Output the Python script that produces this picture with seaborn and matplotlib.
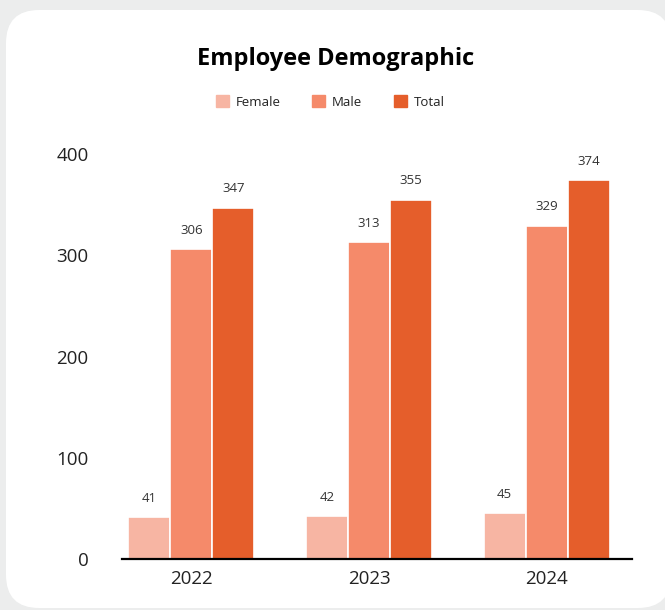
import matplotlib
matplotlib.use("Agg")
import matplotlib.pyplot as plt
from matplotlib.patches import FancyBboxPatch
import seaborn as sns
import pandas as pd

years = ["2022", "2023", "2024"]
groups = ["Female", "Male", "Total"]
female = [41, 42, 45]
male = [306, 313, 329]
total = [347, 355, 374]
yticks = [0, 100, 200, 300, 400]

palette = {"Female": "#F7B5A3", "Male": "#F58A6A", "Total": "#E55E2B"}

df = pd.DataFrame({
    "Year": years * 3,
    "Group": ["Female"] * 3 + ["Male"] * 3 + ["Total"] * 3,
    "Count": female + male + total,
})

sns.set_theme(style="white")
plt.rcParams["font.family"] = ["Open Sans", "DejaVu Sans"]

fig = plt.figure(figsize=(6.65, 6.10), dpi=100)
fig.patch.set_facecolor("#ECEDED")

# white card with rounded corners
card = FancyBboxPatch((6 / 665, 2 / 610), 1.0, 1 - 12 / 610,
                      boxstyle="round,pad=0,rounding_size=0.05",
                      transform=fig.transFigure, facecolor="white",
                      edgecolor="none", zorder=-5, mutation_aspect=665 / 610)
fig.patches.append(card)

ax = fig.add_axes([122 / 665, 1 - 559 / 610, (632 - 122) / 665, (559 - 154) / 610])
ax.set_facecolor("none")
ax.set_zorder(2)

sns.barplot(data=df, x="Year", y="Count", hue="Group", order=years,
            hue_order=groups, palette=palette, width=0.71, saturation=1,
            edgecolor="white", linewidth=1.2, ax=ax, legend=False)

for cont in ax.containers:
    ax.bar_label(cont, padding=9, fontsize=9.5, color="#333333")

ax.set_ylim(0, 400)
ax.set_xlim(-0.39, 2.48)
ax.set_yticks(yticks)
ax.set_yticklabels([str(v) for v in yticks], fontsize=13.5, color="#222222")
ax.tick_params(axis="y", length=0, pad=24)
ax.tick_params(axis="x", length=0, pad=8, labelsize=13.5, labelcolor="#222222")
ax.set_xlabel("")
ax.set_ylabel("")
for s in ["top", "right", "left"]:
    ax.spines[s].set_visible(False)
ax.spines["bottom"].set_color("black")
ax.spines["bottom"].set_linewidth(1.6)

fig.text(336 / 665, 1 - 59 / 610, "Employee Demographic", ha="center",
         va="center", fontsize=17, fontweight="bold", color="black")

handles = [plt.Rectangle((0, 0), 1, 1, color=palette[g]) for g in groups]
fig.legend(handles, groups, loc="center", bbox_to_anchor=(330 / 665, 1 - 102 / 610),
           ncol=3, frameon=False, fontsize=9.5, handlelength=1.0,
           handleheight=1.0, handletextpad=0.5, columnspacing=2.4,
           labelcolor="#222222")

fig.savefig("out.png", dpi=100)
